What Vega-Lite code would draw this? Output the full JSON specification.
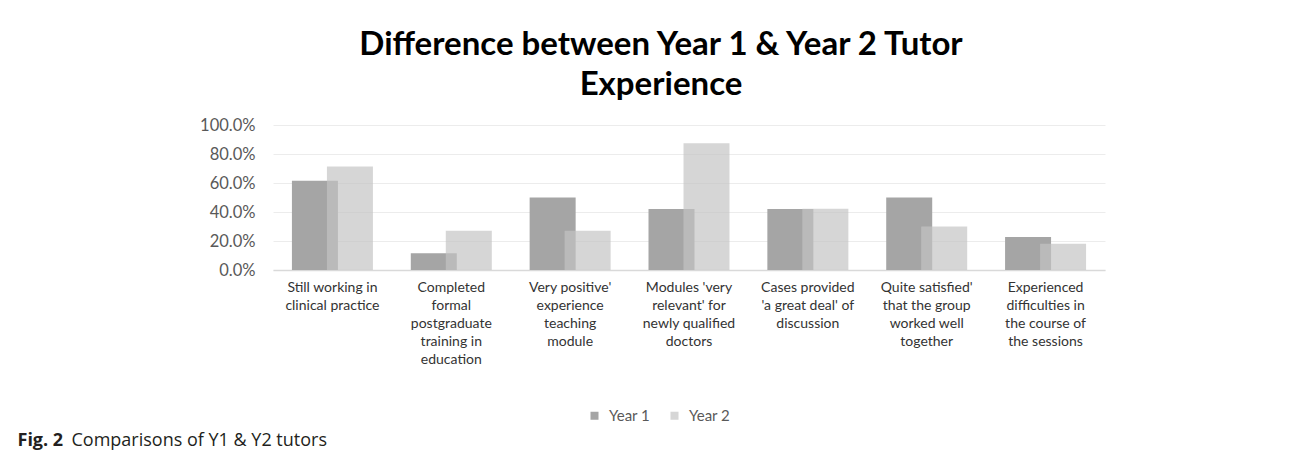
{
  "$schema": "https://vega.github.io/schema/vega-lite/v6.json",
  "width": 832,
  "height": 145,
  "autosize": {"type": "none"},
  "padding": {"left": 273, "top": 125, "right": 185, "bottom": 191},
  "background": "white",
  "title": {
    "text": ["Difference between Year 1 & Year 2 Tutor", "Experience"],
    "font": "Lato",
    "fontSize": 33,
    "fontWeight": "bold",
    "color": "#000000",
    "lineHeight": 40,
    "anchor": "middle",
    "dx": -28,
    "offset": 15
  },
  "data": {
    "values": [
      {"item": "Still working in|clinical practice", "series": "Year 1", "share": 0.615},
      {"item": "Still working in|clinical practice", "series": "Year 2", "share": 0.714},
      {"item": "Completed|formal|postgraduate|training in|education", "series": "Year 1", "share": 0.115},
      {"item": "Completed|formal|postgraduate|training in|education", "series": "Year 2", "share": 0.27},
      {"item": "Very positive'|experience|teaching|module", "series": "Year 1", "share": 0.5},
      {"item": "Very positive'|experience|teaching|module", "series": "Year 2", "share": 0.27},
      {"item": "Modules 'very|relevant' for|newly qualified|doctors", "series": "Year 1", "share": 0.42},
      {"item": "Modules 'very|relevant' for|newly qualified|doctors", "series": "Year 2", "share": 0.875},
      {"item": "Cases provided|'a great deal' of|discussion", "series": "Year 1", "share": 0.42},
      {"item": "Cases provided|'a great deal' of|discussion", "series": "Year 2", "share": 0.423},
      {"item": "Quite satisfied'|that the group|worked well|together", "series": "Year 1", "share": 0.5},
      {"item": "Quite satisfied'|that the group|worked well|together", "series": "Year 2", "share": 0.3},
      {"item": "Experienced|difficulties in|the course of|the sessions", "series": "Year 1", "share": 0.228},
      {"item": "Experienced|difficulties in|the course of|the sessions", "series": "Year 2", "share": 0.181}
    ]
  },
  "encoding": {
    "x": {
      "field": "item",
      "type": "nominal",
      "sort": null,
      "scale": {"paddingInner": 0, "paddingOuter": 0},
      "axis": {
        "title": "Comparisons of Y1 & Y2 tutors",
        "titleFont": "Open Sans",
        "titleFontSize": 18,
        "titleFontWeight": "normal",
        "titleColor": "#231f20",
        "titleAnchor": "start",
        "titleAlign": "left",
        "titleBaseline": "middle",
        "titleX": -202,
        "titleY": 170,
        "labelExpr": "split(datum.label, '|')",
        "labelAngle": 0,
        "labelFont": "Lato",
        "labelFontSize": 14,
        "labelColor": "#333333",
        "labelLineHeight": 18,
        "labelBaseline": "top",
        "labelPadding": 10,
        "ticks": false,
        "tickSize": 0,
        "domainColor": "#d9d9d9",
        "domainWidth": 1.5,
        "labelLimit": 200
      }
    },
    "y": {
      "field": "share",
      "type": "quantitative",
      "scale": {"domain": [0, 1], "nice": false},
      "axis": {
        "values": [0, 0.2, 0.4, 0.6, 0.8, 1],
        "format": ".1%",
        "title": "Fig. 2",
        "titleFont": "Open Sans",
        "titleFontSize": 18,
        "titleFontWeight": "bold",
        "titleColor": "#231f20",
        "titleAngle": 0,
        "titleAlign": "left",
        "titleBaseline": "middle",
        "titleX": -256,
        "titleY": 315,
        "labelFont": "Lato",
        "labelFontSize": 16.5,
        "labelColor": "#595959",
        "labelPadding": 18,
        "ticks": false,
        "tickSize": 0,
        "domain": false,
        "grid": true,
        "gridColor": "#ececec",
        "gridWidth": 1
      }
    },
    "color": {
      "field": "series",
      "type": "nominal",
      "scale": {"domain": ["Year 1", "Year 2"], "range": ["#a5a5a5", "#c4c4c4"]},
      "legend": {
        "title": null,
        "orient": "none",
        "direction": "horizontal",
        "legendX": 314,
        "legendY": 283,
        "symbolType": "square",
        "symbolSize": 64,
        "symbolStrokeWidth": 0,
        "labelFont": "Lato",
        "labelFontSize": 15,
        "labelColor": "#595959",
        "labelOffset": 7,
        "columnPadding": 16
      }
    },
    "opacity": {
      "field": "series",
      "type": "nominal",
      "scale": {"domain": ["Year 1", "Year 2"], "range": [1, 0.69]},
      "legend": null
    }
  },
  "layer": [
    {
      "transform": [{"filter": "datum.series === 'Year 1'"}],
      "mark": {"type": "bar", "width": 46, "xOffset": -17.5}
    },
    {
      "transform": [{"filter": "datum.series === 'Year 2'"}],
      "mark": {"type": "bar", "width": 46, "xOffset": 17.5}
    }
  ],
  "config": {
    "view": {"stroke": null}
  }
}
